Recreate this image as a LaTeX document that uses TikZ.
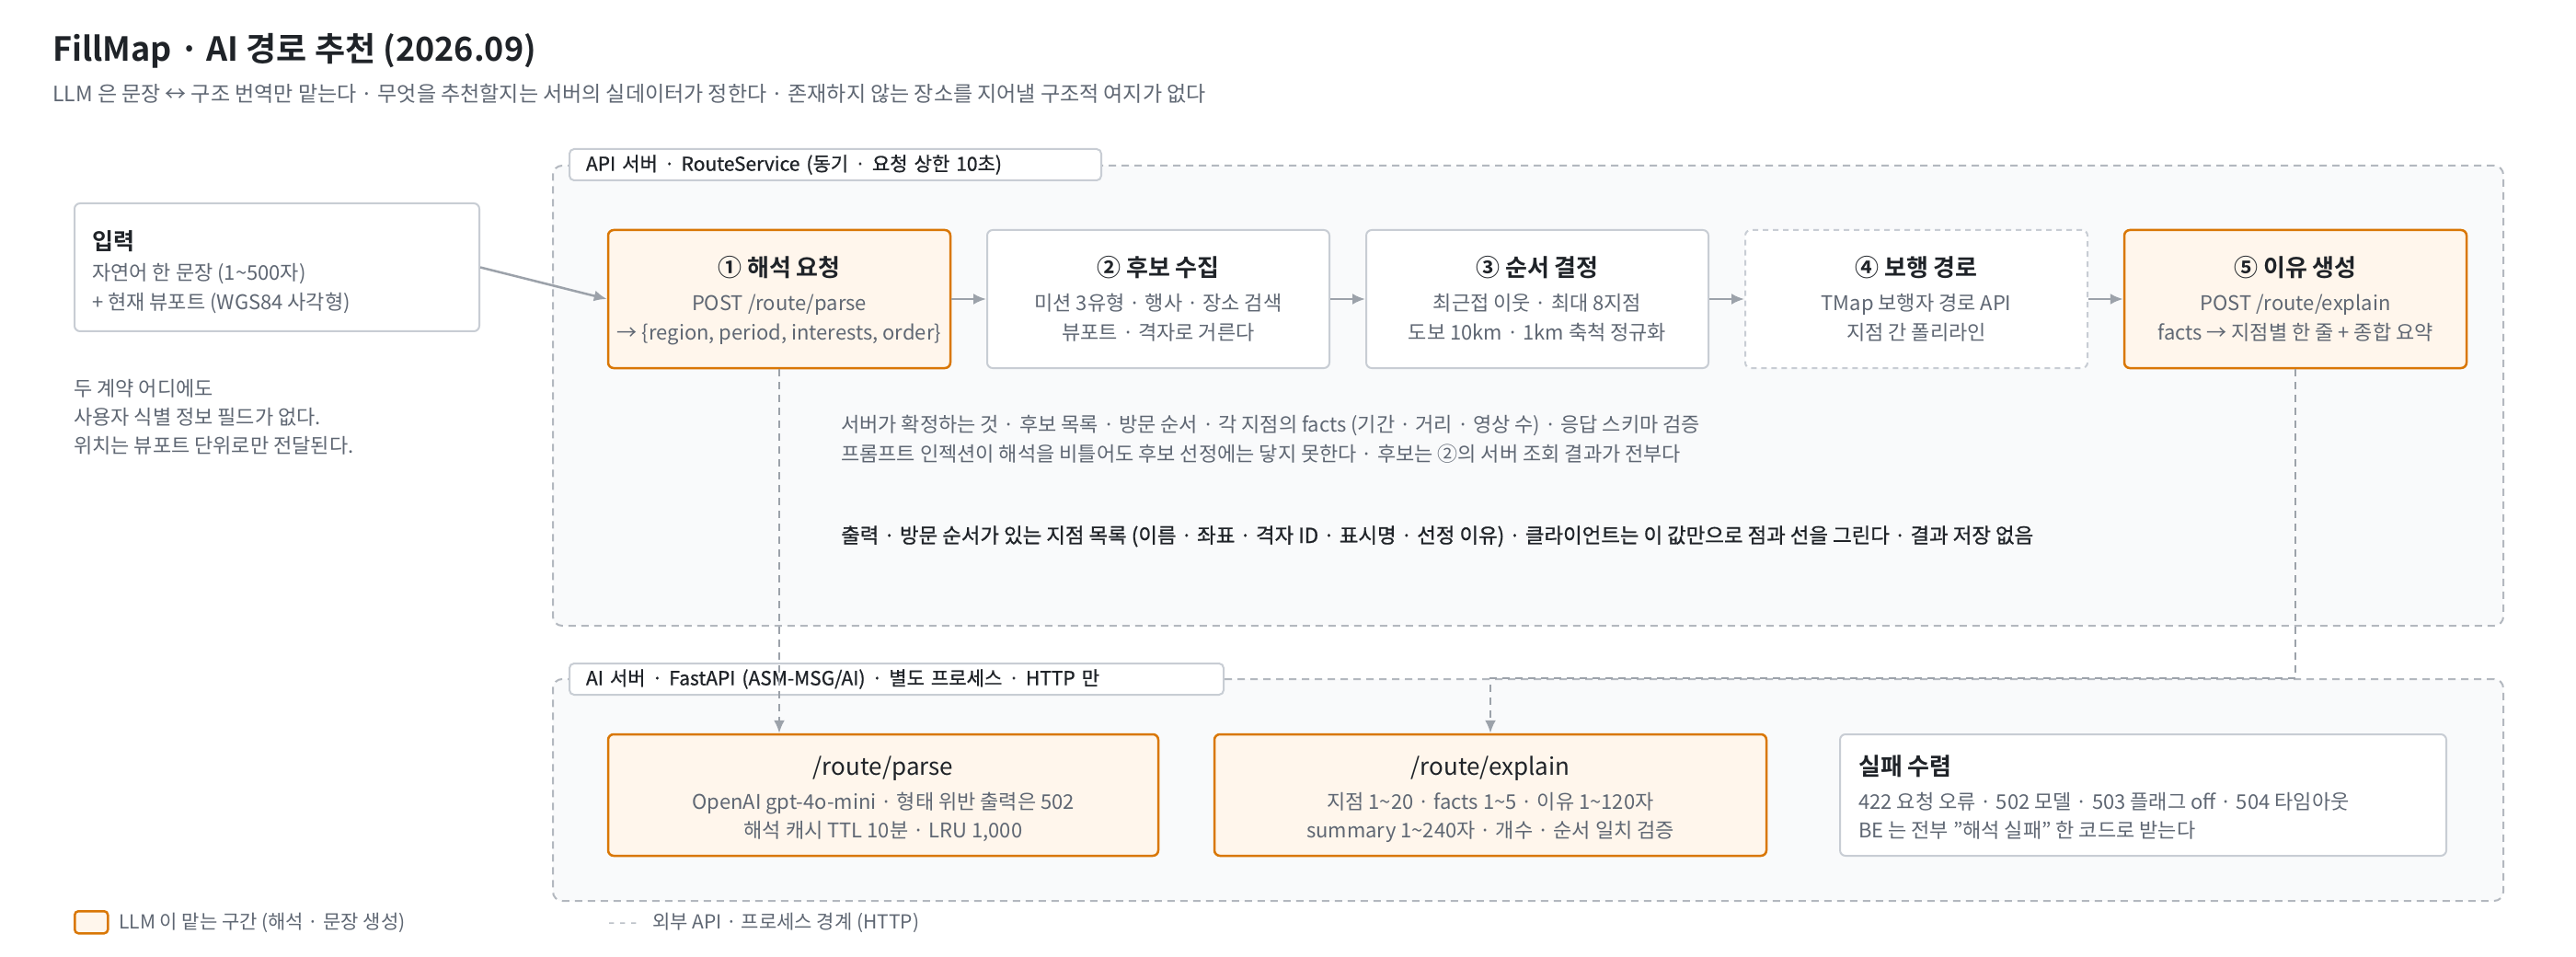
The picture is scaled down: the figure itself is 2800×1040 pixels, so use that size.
\documentclass[tikz,border=0pt]{standalone}
\usepackage{fontspec}
\setmainfont{Noto Sans CJK KR}[BoldFont={Noto Sans CJK KR Bold}]
\newfontfamily\medfont{Noto Sans CJK KR}[FakeBold=0.8]
\newcommand\mytilde{{\char126\relax}}
\usetikzlibrary{arrows.meta}
\definecolor{obd}{HTML}{D97706}
\definecolor{ofl}{HTML}{FFF6EC}
\definecolor{gbd}{HTML}{C8CDD4}
\definecolor{cfl}{HTML}{F9FAFB}
\definecolor{cbd}{HTML}{B3B8BF}
\definecolor{tdark}{HTML}{1F2328}
\definecolor{tgray}{HTML}{5F6773}
\definecolor{agray}{HTML}{9CA2AA}
\begin{document}
\begin{tikzpicture}[x=1pt,y=-1pt,
  box/.style={draw=gbd, line width=2pt, fill=white, rounded corners=6pt, minimum width=372pt, minimum height=150pt, inner sep=0pt},
  llm/.style={box, draw=obd, fill=ofl, line width=2.5pt},
  dbox/.style={box, dash pattern=on 6pt off 5pt},
  cont/.style={draw=cbd, line width=2pt, dash pattern=on 8pt off 6pt, fill=cfl, rounded corners=10pt, anchor=north west, inner sep=0pt},
  lab/.style={draw=gbd, line width=2pt, fill=white, rounded corners=5pt, anchor=west, inner xsep=18pt, inner ysep=0pt, minimum height=34pt, align=left, text=tdark, font=\fontsize{21}{25}\medfont},
  ttl/.style={anchor=base, inner sep=0pt, text=tdark, font=\fontsize{26}{30}\selectfont\bfseries},
  sub/.style={anchor=base, inner sep=0pt, text=tgray, font=\fontsize{22}{26}\selectfont},
  subl/.style={sub, anchor=base west},
  ttll/.style={ttl, anchor=base west},
  leg/.style={anchor=base west, inner sep=0pt, text=tgray, font=\fontsize{21}{25}\selectfont},
  arr/.style={draw=agray, line width=2.5pt, -{Latex[length=14pt,width=12pt]}},
  darr/.style={arr, dash pattern=on 8pt off 6pt}]
\useasboundingbox[fill=white] (0,0) rectangle (2800,1040);

% title
\node[anchor=base west, inner sep=0pt, text=tdark, font=\fontsize{36}{42}\selectfont\bfseries] (title) at (57,67) {FillMap · AI 경로 추천 (2026.09)};
\node[anchor=base west, inner sep=0pt, text=tgray, font=\fontsize{23}{27}\selectfont] (subtitle) at (57,111) {LLM 은 문장 ↔ 구조 번역만 맡는다 · 무엇을 추천할지는 서버의 실데이터가 정한다 · 존재하지 않는 장소를 지어낼 구조적 여지가 없다};

% containers
\node[cont, minimum width=2120pt, minimum height=500pt] (apiC) at (600,179) {};
\node[cont, minimum width=2120pt, minimum height=241pt] (aiC) at (600,737) {};
\node[lab, text width=542pt] (apiL) at (618,179) {API 서버 · RouteService (동기 · 요청 상한 10초)};
\node[lab, text width=675pt] (aiL) at (618,738) {AI 서버 · FastAPI (ASM-MSG/AI) · 별도 프로세스 · HTTP 만};

% input
\node[box, minimum width=440pt, minimum height=139pt, anchor=north west] (in) at (80,220) {};
\node[ttll, font=\fontsize{25}{29}\selectfont\bfseries] (inT) at (100,272) {입력};
\node[subl] (inA) at (100,305) {자연어 한 문장 (1\mytilde500자)};
\node[subl] (inB) at (100,337) {+ 현재 뷰포트 (WGS84 사각형)};

% left note
\node[subl] (n1) at (80,430) {두 계약 어디에도};
\node[subl] (n2) at (80,461) {사용자 식별 정보 필드가 없다.};
\node[subl] (n3) at (80,492) {위치는 뷰포트 단위로만 전달된다.};

% pipeline boxes
\node[llm] (b1) at (847,325) {};
\node[box] (b2) at (1259,325) {};
\node[box] (b3) at (1671,325) {};
\node[dbox] (b4) at (2083,325) {};
\node[llm] (b5) at (2495,325) {};

\node[ttl] (b1t) at ([yshift=24pt]b1.center) {① 해석 요청};
\node[sub] (b1a) at ([yshift=-13pt]b1.center) {POST /route/parse};
\node[sub] (b1b) at ([yshift=-45pt]b1.center) {→ \{region, period, interests, order\}};

\node[ttl] (b2t) at ([yshift=24pt]b2.center) {② 후보 수집};
\node[sub] (b2a) at ([yshift=-13pt]b2.center) {미션 3유형 · 행사 · 장소 검색};
\node[sub] (b2b) at ([yshift=-45pt]b2.center) {뷰포트 · 격자로 거른다};

\node[ttl] (b3t) at ([yshift=24pt]b3.center) {③ 순서 결정};
\node[sub] (b3a) at ([yshift=-13pt]b3.center) {최근접 이웃 · 최대 8지점};
\node[sub] (b3b) at ([yshift=-45pt]b3.center) {도보 10km · 1km 축척 정규화};

\node[ttl] (b4t) at ([yshift=24pt]b4.center) {④ 보행 경로};
\node[sub] (b4a) at ([yshift=-13pt]b4.center) {TMap 보행자 경로 API};
\node[sub] (b4b) at ([yshift=-45pt]b4.center) {지점 간 폴리라인};

\node[ttl] (b5t) at ([yshift=24pt]b5.center) {⑤ 이유 생성};
\node[sub] (b5a) at ([yshift=-13pt]b5.center) {POST /route/explain};
\node[sub] (b5b) at ([yshift=-45pt]b5.center) {facts → 지점별 한 줄 + 종합 요약};

% middle notes
\node[subl] (m1) at (914,469) {서버가 확정하는 것 · 후보 목록 · 방문 순서 · 각 지점의 facts (기간 · 거리 · 영상 수) · 응답 스키마 검증};
\node[subl] (m2) at (914,501) {프롬프트 인젝션이 해석을 비틀어도 후보 선정에는 닿지 못한다 · 후보는 ②의 서버 조회 결과가 전부다};
\node[subl, text=tdark, font=\fontsize{22.4}{26}\medfont] (m3) at (914,590) {출력 · 방문 순서가 있는 지점 목록 (이름 · 좌표 · 격자 ID · 표시명 · 선정 이유) · 클라이언트는 이 값만으로 점과 선을 그린다 · 결과 저장 없음};

% AI boxes
\node[llm, minimum width=598pt, minimum height=132pt] (p1) at (960,864) {};
\node[llm, minimum width=600pt, minimum height=132pt] (e1) at (1620,864) {};
\node[box, minimum width=659pt, minimum height=132pt] (f1) at (2329.5,864) {};

\node[ttl, font=\fontsize{26}{30}\selectfont] (p1t) at ([yshift=22pt]p1.center) {/route/parse};
\node[sub] (p1a) at ([yshift=-15pt]p1.center) {OpenAI gpt-4o-mini · 형태 위반 출력은 502};
\node[sub] (p1b) at ([yshift=-46pt]p1.center) {해석 캐시 TTL 10분 · LRU 1,000};

\node[ttl, font=\fontsize{26}{30}\selectfont] (e1t) at ([yshift=22pt]e1.center) {/route/explain};
\node[sub] (e1a) at ([yshift=-15pt]e1.center) {지점 1\mytilde20 · facts 1\mytilde5 · 이유 1\mytilde120자};
\node[sub] (e1b) at ([yshift=-46pt]e1.center) {summary 1\mytilde240자 · 개수 · 순서 일치 검증};

\node[ttll] (f1t) at (2020,842) {실패 수렴};
\node[subl] (f1a) at (2020,879) {422 요청 오류 · 502 모델 · 503 플래그 off · 504 타임아웃};
\node[subl] (f1b) at (2020,910) {BE 는 전부 "해석 실패" 한 코드로 받는다};

% connectors
\draw[arr] (in.east) -- (b1.west);
\draw[arr] (b1) -- (b2);
\draw[arr] (b2) -- (b3);
\draw[arr] (b3) -- (b4);
\draw[arr] (b4) -- (b5);
\draw[darr] (b1.south) -- (b1.south |- p1.north);
\draw[darr] (b5.south) |- (e1.north |- aiC.north) -- (e1.north);

% legend
\node[draw=obd, fill=ofl, line width=2.5pt, rounded corners=4pt, minimum width=36pt, minimum height=24pt, inner sep=0pt, anchor=north west] (lg1) at (80,989) {};
\node[leg] (lg1t) at (129,1009) {LLM 이 맡는 구간 (해석 · 문장 생성)};
\node[leg, text=cbd] (lg2d) at (661,1009) {- - -};
\node[leg] (lg2t) at (709,1009) {외부 API · 프로세스 경계 (HTTP)};
\end{tikzpicture}
\end{document}
